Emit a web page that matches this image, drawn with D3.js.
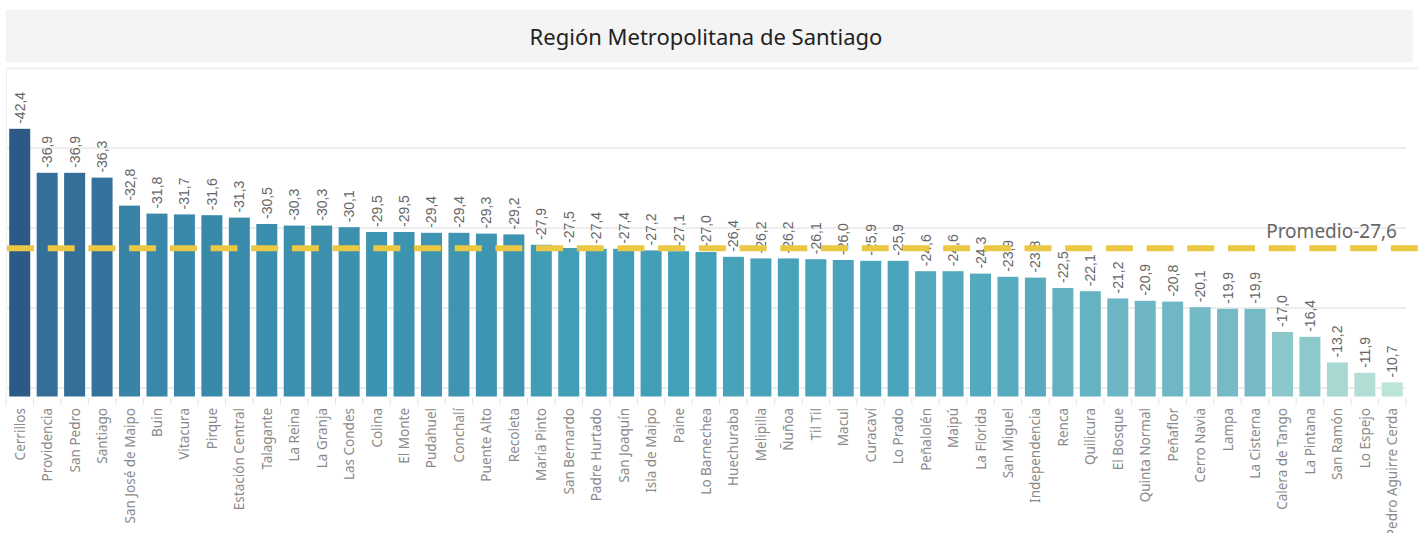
<!DOCTYPE html>
<html>
<head>
<meta charset="utf-8">
<script src="https://cdn.jsdelivr.net/npm/d3@7"></script>
<style>
  body { margin: 0; background: #fff; }
  svg { display: block; }
</style>
</head>
<body>
<div id="chart"></div>
<script>
// Comunas, ordered as in the chart
const comunas = [
  "Cerrillos", "Providencia", "San Pedro", "Santiago", "San José de Maipo", "Buin",
  "Vitacura", "Pirque", "Estación Central", "Talagante", "La Reina", "La Granja",
  "Las Condes", "Colina", "El Monte", "Pudahuel", "Conchalí", "Puente Alto",
  "Recoleta", "María Pinto", "San Bernardo", "Padre Hurtado", "San Joaquín",
  "Isla de Maipo", "Paine", "Lo Barnechea", "Huechuraba", "Melipilla", "Ñuñoa",
  "Til Til", "Macul", "Curacaví", "Lo Prado", "Peñalolén", "Maipú", "La Florida",
  "San Miguel", "Independencia", "Renca", "Quilicura", "El Bosque", "Quinta Normal",
  "Peñaflor", "Cerro Navia", "Lampa", "La Cisterna", "Calera de Tango", "La Pintana",
  "San Ramón", "Lo Espejo", "Pedro Aguirre Cerda"
];

const valores = [
  -42.4, -36.9, -36.9, -36.3, -32.8, -31.8,
  -31.7, -31.6, -31.3, -30.5, -30.3, -30.3,
  -30.1, -29.5, -29.5, -29.4, -29.4, -29.3,
  -29.2, -27.9, -27.5, -27.4, -27.4,
  -27.2, -27.1, -27.0, -26.4, -26.2, -26.2,
  -26.1, -26.0, -25.9, -25.9, -24.6, -24.6, -24.3,
  -23.9, -23.8, -22.5, -22.1, -21.2, -20.9,
  -20.8, -20.1, -19.9, -19.9, -17.0, -16.4,
  -13.2, -11.9, -10.7
];

const promedio = -27.6;
const gridValues = [-40, -30, -20, -10];

// colour stops (value -> colour), blue-teal ramp
const colorStops = [-42.4, -36.5, -31, -27, -23.5, -20, -16, -10.7];
const colorRange = ["#2c5985", "#34719a", "#3a8cac", "#43a0b9", "#5aacbf", "#75bac6", "#90cbcc", "#bce4d8"];

const W = 1419, H = 533;
// hyphen minus and decimal comma, as in the original
const fmt = v => d3.format(".1f")(v).replace("\u2212", "-").replace(".", ",");

const svg = d3.select("#chart").append("svg")
  .attr("width", W)
  .attr("height", H);

// title band
svg.append("rect")
  .attr("x", 6).attr("y", 10)
  .attr("width", 1407).attr("height", 52)
  .attr("fill", "#f4f4f4");

svg.append("text")
  .attr("x", 706)
  .attr("y", 45)
  .attr("text-anchor", "middle")
  .style("font-family", "'Noto Sans', sans-serif")
  .style("font-size", "22px")
  .attr("fill", "#222")
  .text("Región Metropolitana de Santiago");

// plot pane border lines
svg.append("line")
  .attr("x1", 6).attr("x2", W)
  .attr("y1", 68.5).attr("y2", 68.5)
  .attr("stroke", "#efefef").attr("stroke-width", 2);
svg.append("line")
  .attr("x1", 6.5).attr("x2", 6.5)
  .attr("y1", 68).attr("y2", 397)
  .attr("stroke", "#efefef").attr("stroke-width", 1);

const x = d3.scaleBand()
  .domain(comunas)
  .range([6, 1406])
  .paddingInner(0.235)
  .paddingOuter(0.1175);

// reversed axis: more negative goes up
const y = d3.scaleLinear()
  .domain([-8.94, -50])
  .range([396.5, 68]);

const color = d3.scaleLinear()
  .domain(colorStops)
  .range(colorRange)
  .interpolate(d3.interpolateRgb);

// gridlines
svg.append("g")
  .selectAll("line")
  .data(gridValues)
  .join("line")
  .attr("x1", 7).attr("x2", 1406)
  .attr("y1", d => y(d)).attr("y2", d => y(d))
  .attr("stroke", "#ededed")
  .attr("stroke-width", 2);

const data = comunas.map((c, i) => ({ comuna: c, valor: valores[i] }));

// bars
svg.append("g")
  .selectAll("rect")
  .data(data)
  .join("rect")
  .attr("x", d => x(d.comuna))
  .attr("width", x.bandwidth())
  .attr("y", d => y(d.valor))
  .attr("height", d => y(-8.94) - y(d.valor))
  .attr("fill", d => color(d.valor));

// value labels
svg.append("g")
  .selectAll("text")
  .data(data)
  .join("text")
  .attr("transform", d => `translate(${x(d.comuna) + x.bandwidth() / 2 + 5},${y(d.valor) - 5}) rotate(-90)`)
  .style("font-family", "'Liberation Sans', Arial, sans-serif")
  .style("font-size", "14px")
  .attr("fill", "#666")
  .text(d => fmt(d.valor));

// x axis ticks between categories
const step = x.step();
const tickXs = d3.range(comunas.length + 1).map(i => 6 + i * step);
svg.append("g")
  .selectAll("line")
  .data(tickXs)
  .join("line")
  .attr("x1", d => d).attr("x2", d => d)
  .attr("y1", 398).attr("y2", 405)
  .attr("stroke", "#e4e4e4");

// x labels
svg.append("g")
  .selectAll("text")
  .data(comunas)
  .join("text")
  .attr("transform", d => `translate(${x(d) + x.bandwidth() / 2 + 5},408) rotate(-90)`)
  .attr("text-anchor", "end")
  .style("font-family", "'Noto Sans', sans-serif")
  .style("font-size", "13.5px")
  .attr("fill", "#8a8a8a")
  .text(d => d);

// average line
svg.append("line")
  .attr("x1", 7).attr("x2", W)
  .attr("y1", y(promedio) + 1).attr("y2", y(promedio) + 1)
  .attr("stroke", "#ebc843")
  .attr("stroke-width", 6)
  .attr("stroke-dasharray", "27 13.7");

svg.append("text")
  .attr("x", 1397)
  .attr("y", 238)
  .attr("text-anchor", "end")
  .style("font-family", "'Noto Sans', sans-serif")
  .style("font-size", "19px")
  .attr("fill", "#666")
  .text("Promedio" + fmt(promedio));
</script>
</body>
</html>
